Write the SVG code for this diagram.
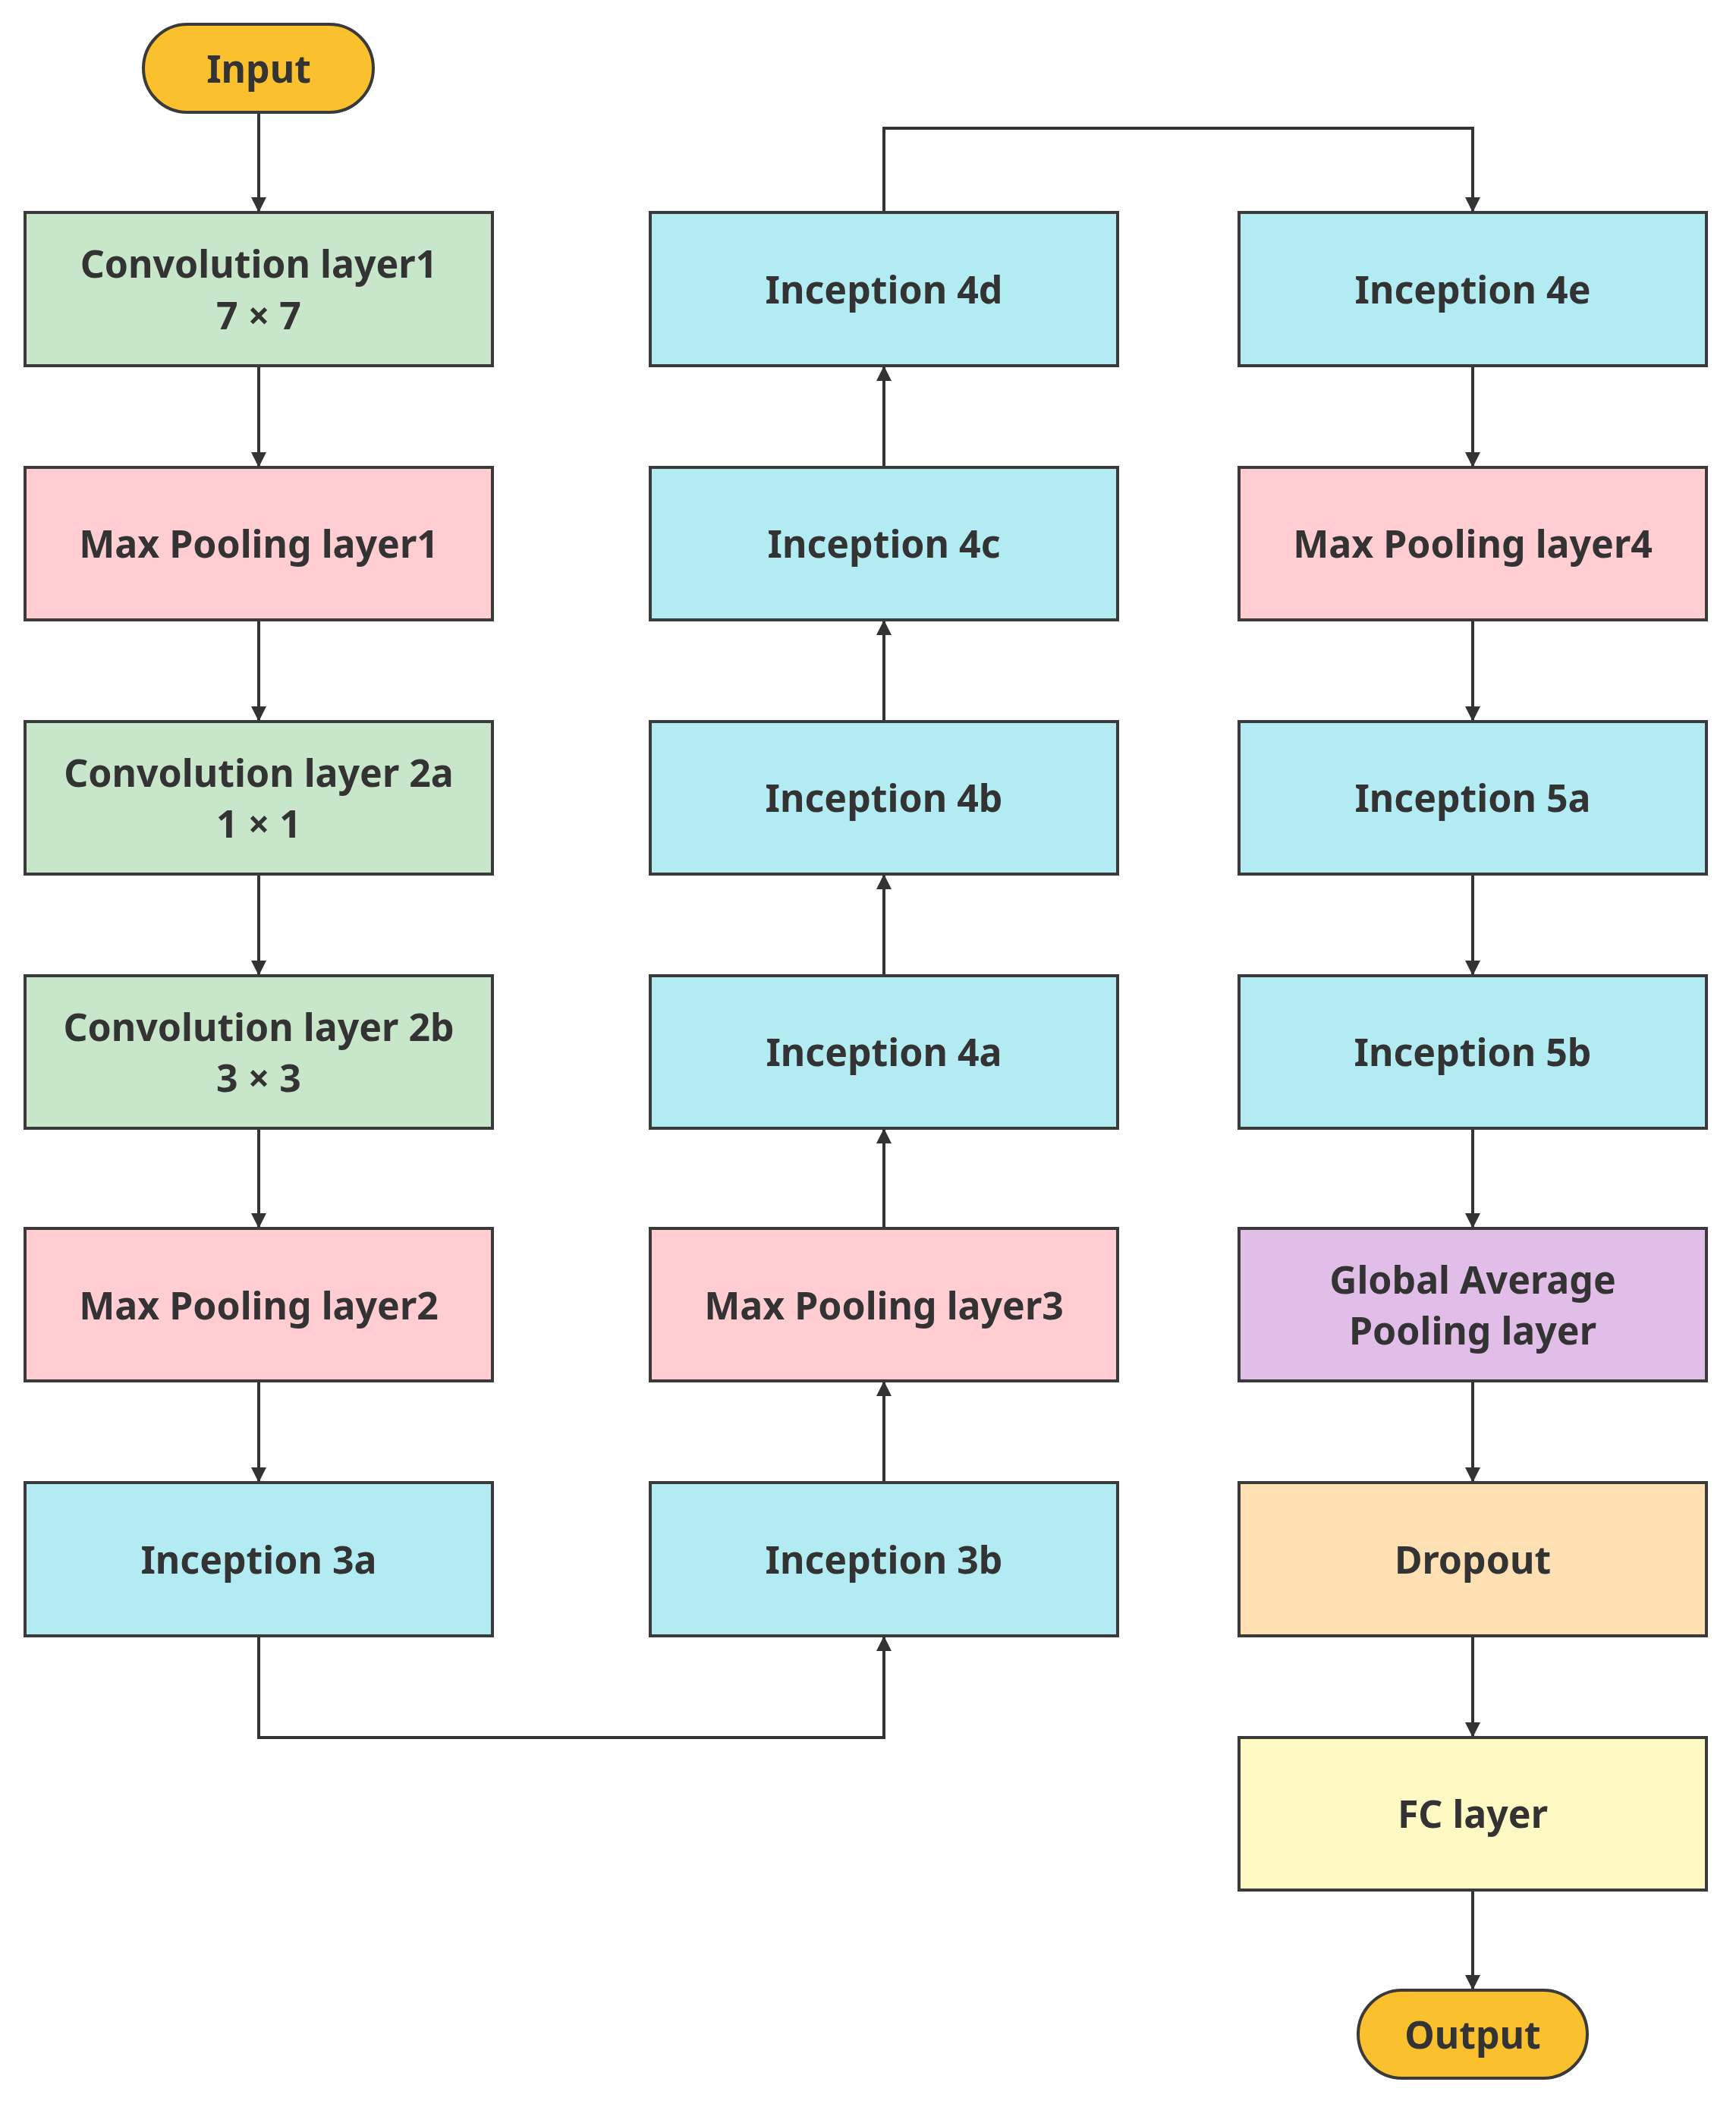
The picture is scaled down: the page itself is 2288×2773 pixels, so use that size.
<svg xmlns="http://www.w3.org/2000/svg" width="2288" height="2773" viewBox="0 0 2288 2773">
<style>
.b{stroke:#3a3a3a;stroke-width:4}
.t{font-family:"Noto Sans","Open Sans",sans-serif;font-weight:bold;font-size:50px;fill:#333;text-anchor:middle;dominant-baseline:central}
.g{fill:#C8E6C9}.p{fill:#FFCDD2}.c{fill:#B2EBF2}.v{fill:#E1BEE7}.o{fill:#FFE0B2}.y{fill:#FFF9C4}.s{fill:#FBC02D}
.e{fill:none;stroke:#333;stroke-width:4;marker-end:url(#a)}
</style>
<defs><marker id="a" viewBox="0 0 10 10" refX="10" refY="5" markerWidth="5" markerHeight="6" orient="auto" markerUnits="strokeWidth"><path d="M0,0L10,5L0,10z" fill="#333"/></marker></defs>
<rect width="2288" height="2773" fill="#fff"/>
<g id="connectors">
<path class="e" d="M341,148V280"/>
<path class="e" d="M341,482V616"/>
<path class="e" d="M341,817V951"/>
<path class="e" d="M341,1152V1286"/>
<path class="e" d="M341,1487V1619"/>
<path class="e" d="M341,1820V1954"/>
<path class="e" d="M341,2156V2290H1165V2156"/>
<path class="e" d="M1165,1954V1820"/>
<path class="e" d="M1165,1619V1487"/>
<path class="e" d="M1165,1286V1152"/>
<path class="e" d="M1165,951V817"/>
<path class="e" d="M1165,616V482"/>
<path class="e" d="M1165,280V169H1941V280"/>
<path class="e" d="M1941,482V616"/>
<path class="e" d="M1941,817V951"/>
<path class="e" d="M1941,1152V1286"/>
<path class="e" d="M1941,1487V1619"/>
<path class="e" d="M1941,1820V1954"/>
<path class="e" d="M1941,2156V2290"/>
<path class="e" d="M1941,2491V2623"/>
</g>
<g id="input"><rect class="b s" x="189" y="32" width="303" height="116" rx="58"/><text class="t" x="341" y="90">Input</text></g>
<g id="conv1"><rect class="b g" x="33" y="280" width="616" height="202"/><text class="t" x="341" y="347">Convolution layer1</text><text class="t" x="341" y="415">7 × 7</text></g>
<g id="pool1"><rect class="b p" x="33" y="616" width="616" height="201"/><text class="t" x="341" y="716">Max Pooling layer1</text></g>
<g id="conv2a"><rect class="b g" x="33" y="951" width="616" height="201"/><text class="t" x="341" y="1018">Convolution layer 2a</text><text class="t" x="341" y="1085">1 × 1</text></g>
<g id="conv2b"><rect class="b g" x="33" y="1286" width="616" height="201"/><text class="t" x="341" y="1353">Convolution layer 2b</text><text class="t" x="341" y="1420">3 × 3</text></g>
<g id="pool2"><rect class="b p" x="33" y="1619" width="616" height="201"/><text class="t" x="341" y="1720">Max Pooling layer2</text></g>
<g id="inc3a"><rect class="b c" x="33" y="1954" width="616" height="202"/><text class="t" x="341" y="2055">Inception 3a</text></g>
<g id="inc4d"><rect class="b c" x="857" y="280" width="616" height="202"/><text class="t" x="1165" y="381">Inception 4d</text></g>
<g id="inc4c"><rect class="b c" x="857" y="616" width="616" height="201"/><text class="t" x="1165" y="716">Inception 4c</text></g>
<g id="inc4b"><rect class="b c" x="857" y="951" width="616" height="201"/><text class="t" x="1165" y="1051">Inception 4b</text></g>
<g id="inc4a"><rect class="b c" x="857" y="1286" width="616" height="201"/><text class="t" x="1165" y="1386">Inception 4a</text></g>
<g id="pool3"><rect class="b p" x="857" y="1619" width="616" height="201"/><text class="t" x="1165" y="1720">Max Pooling layer3</text></g>
<g id="inc3b"><rect class="b c" x="857" y="1954" width="616" height="202"/><text class="t" x="1165" y="2055">Inception 3b</text></g>
<g id="inc4e"><rect class="b c" x="1633" y="280" width="616" height="202"/><text class="t" x="1941" y="381">Inception 4e</text></g>
<g id="pool4"><rect class="b p" x="1633" y="616" width="616" height="201"/><text class="t" x="1941" y="716">Max Pooling layer4</text></g>
<g id="inc5a"><rect class="b c" x="1633" y="951" width="616" height="201"/><text class="t" x="1941" y="1051">Inception 5a</text></g>
<g id="inc5b"><rect class="b c" x="1633" y="1286" width="616" height="201"/><text class="t" x="1941" y="1386">Inception 5b</text></g>
<g id="gap"><rect class="b v" x="1633" y="1619" width="616" height="201"/><text class="t" x="1941" y="1686">Global Average</text><text class="t" x="1941" y="1753">Pooling layer</text></g>
<g id="dropout"><rect class="b o" x="1633" y="1954" width="616" height="202"/><text class="t" x="1941" y="2055">Dropout</text></g>
<g id="fc"><rect class="b y" x="1633" y="2290" width="616" height="201"/><text class="t" x="1941" y="2390">FC layer</text></g>
<g id="output"><rect class="b s" x="1790" y="2623" width="302" height="116" rx="58"/><text class="t" x="1941" y="2681">Output</text></g>
</svg>
